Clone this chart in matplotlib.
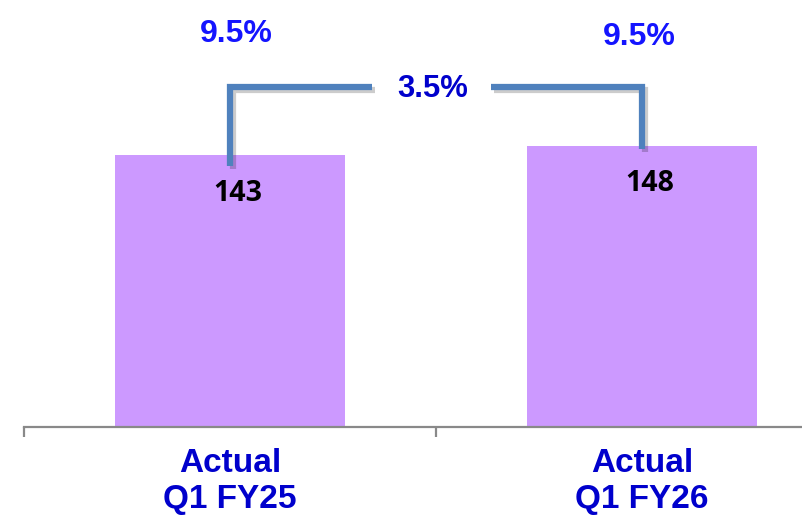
import matplotlib
matplotlib.use("Agg")
import matplotlib.pyplot as plt
import matplotlib.patheffects as pe

# data
categories = ["Actual\nQ1 FY25", "Actual\nQ1 FY26"]
values = [143, 148]
margins = ["9.5%", "9.5%"]
growth = "3.5%"

BAR_COLOR = "#CC99FF"
LINE_COLOR = "#4F81BD"
AXIS_COLOR = "#898989"

fig = plt.figure(figsize=(8.02, 5.2), dpi=100)
# axes runs a bit past the right edge, like the original slide crop
ax = fig.add_axes([24 / 802, 93 / 520, 824 / 802, 427 / 520])

x = list(range(len(values)))
ax.bar(x, values, width=0.557, color=BAR_COLOR, zorder=2)
ax.set_xlim(-0.5, len(values) - 0.5)
ax.set_ylim(0, 224.7)

# axis styling
for s in ["top", "right", "left"]:
    ax.spines[s].set_visible(False)
ax.spines["bottom"].set_color(AXIS_COLOR)
ax.spines["bottom"].set_linewidth(1.6)
ax.set_yticks([])
ax.set_xticks(x)
ax.set_xticklabels(categories, fontsize=24, fontweight="bold", color="#0000CC",
                   family="Liberation Sans", linespacing=1.2)
ax.tick_params(axis="x", which="major", length=0, pad=15)
ax.set_xticks([i - 0.5 for i in range(len(values) + 1)], minor=True)
ax.tick_params(axis="x", which="minor", length=7.5, width=1.6, color=AXIS_COLOR)

# value labels inside bars
for i, v in enumerate(values):
    ax.text(i + 0.02, v - 20, str(v), ha="center", va="center", fontsize=20.5,
            fontweight="bold", color="black", family="Open Sans", zorder=4)

# margin labels on top (slightly uneven, as on the slide)
label_dx = [0.016, -0.006]
label_y = [207, 205]
for i, m in enumerate(margins):
    ax.text(i + label_dx[i], label_y[i], m, ha="center", va="center", fontsize=23,
            fontweight="bold", color="#1414FF", family="Liberation Sans")

# growth connector between the bars
top = max(values) + 31
shadow = [pe.SimpleLineShadow(offset=(2, -2), alpha=0.2), pe.Normal()]
ax.plot([0, 0, 0.344], [values[0] - 5.6, top, top], color=LINE_COLOR, lw=4.5,
        solid_joinstyle="miter", solid_capstyle="butt", path_effects=shadow, zorder=3)
ax.plot([0.633, 1, 1], [top, top, values[1] - 1.7], color=LINE_COLOR, lw=4.5,
        solid_joinstyle="miter", solid_capstyle="butt", path_effects=shadow, zorder=3)
ax.text(0.492, top - 1, growth, ha="center", va="center", fontsize=22.3,
        fontweight="bold", color="#0000CC", family="Liberation Sans")

fig.savefig("out.png", dpi=100)
